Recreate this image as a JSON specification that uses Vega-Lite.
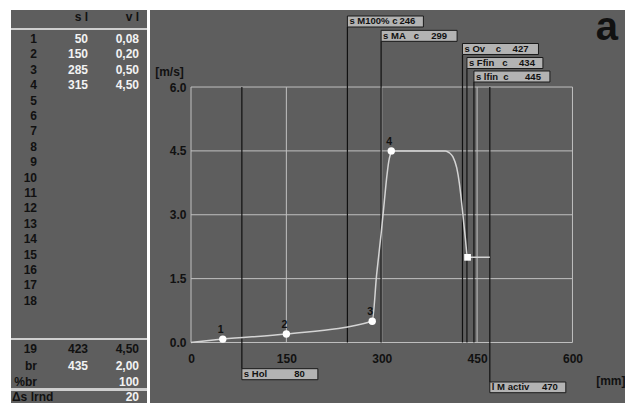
{
  "$schema": "https://vega.github.io/schema/vega-lite/v6.json",
  "background": "white",
  "padding": {"left": 10, "top": 8, "right": 0, "bottom": 0},
  "spacing": 3,
  "bounds": "flush",
  "config": {"view": {"stroke": null}, "font": "Liberation Sans"},
  "datasets": {
    "table": [
      {"label": "1", "line": 1, "s": "50", "v": "0,08"},
      {"label": "2", "line": 2, "s": "150", "v": "0,20"},
      {"label": "3", "line": 3, "s": "285", "v": "0,50"},
      {"label": "4", "line": 4, "s": "315", "v": "4,50"},
      {"label": "5", "line": 5, "s": "", "v": ""},
      {"label": "6", "line": 6, "s": "", "v": ""},
      {"label": "7", "line": 7, "s": "", "v": ""},
      {"label": "8", "line": 8, "s": "", "v": ""},
      {"label": "9", "line": 9, "s": "", "v": ""},
      {"label": "10", "line": 10, "s": "", "v": ""},
      {"label": "11", "line": 11, "s": "", "v": ""},
      {"label": "12", "line": 12, "s": "", "v": ""},
      {"label": "13", "line": 13, "s": "", "v": ""},
      {"label": "14", "line": 14, "s": "", "v": ""},
      {"label": "15", "line": 15, "s": "", "v": ""},
      {"label": "16", "line": 16, "s": "", "v": ""},
      {"label": "17", "line": 17, "s": "", "v": ""},
      {"label": "18", "line": 18, "s": "", "v": ""},
      {"label": "19", "line": 21.11, "s": "423", "v": "4,50"},
      {"label": "br", "line": 22.25, "s": "435", "v": "2,00"},
      {"label": "%br", "line": 23.27, "s": "", "v": "100"},
      {"label": "Δs lrnd", "line": 24.25, "s": "", "v": "20"}
    ],
    "header": [{"s": "s l", "v": "v l"}],
    "markers": [
      {"name": "s M100%\u00a0c", "value": 246},
      {"name": "s MA\u00a0\u00a0\u00a0c", "value": 299},
      {"name": "s Ov\u00a0\u00a0\u00a0\u00a0c", "value": 427},
      {"name": "s Ffin\u00a0\u00a0\u00a0c", "value": 434},
      {"name": "s lfin\u00a0\u00a0c", "value": 445},
      {"name": "s Hol", "value": 80},
      {"name": "l M activ", "value": 470}
    ],
    "profile": [
      {"s": 0, "v": 0},
      {"s": 50, "v": 0.08},
      {"s": 150, "v": 0.2},
      {"s": 285, "v": 0.5},
      {"s": 292, "v": 1.6},
      {"s": 299, "v": 2.55},
      {"s": 304, "v": 3.3},
      {"s": 308, "v": 3.9},
      {"s": 311, "v": 4.25},
      {"s": 315, "v": 4.45},
      {"s": 320, "v": 4.5},
      {"s": 400, "v": 4.5},
      {"s": 406, "v": 4.46},
      {"s": 412, "v": 4.36},
      {"s": 418, "v": 4.1},
      {"s": 422, "v": 3.75},
      {"s": 425, "v": 3.38},
      {"s": 428, "v": 2.95},
      {"s": 431.5, "v": 2.45},
      {"s": 435, "v": 2.0},
      {"s": 470, "v": 2.0}
    ],
    "points": [
      {"n": "1", "s": 50, "v": 0.08},
      {"n": "2", "s": 150, "v": 0.2},
      {"n": "3", "s": 285, "v": 0.5},
      {"n": "4", "s": 315, "v": 4.5}
    ],
    "brake": [{"s": 435, "v": 2.0}]
  },
  "hconcat": [
    {
      "width": 136,
      "height": 395,
      "view": {"fill": "#5e5e5e", "stroke": null},
      "data": {"name": "table"},
      "layer": [
        {"mark": {"type": "rule", "color": "#cfcfcf", "strokeWidth": 2},
         "encoding": {"y": {"datum": 0.35, "type": "quantitative", "scale": {"domain": [-0.8831, 24.7662], "reverse": true, "nice": false, "zero": false}, "axis": null}}},
        {"mark": {"type": "rule", "color": "#cfcfcf", "strokeWidth": 2},
         "encoding": {"y": {"datum": 20.48, "type": "quantitative", "axis": null}}},
        {"mark": {"type": "rule", "color": "#cfcfcf", "strokeWidth": 2},
         "encoding": {"y": {"datum": 23.77, "type": "quantitative", "axis": null}}},
        {"data": {"name": "header"},
         "mark": {"type": "text", "align": "right", "baseline": "middle", "fontSize": 12, "fontWeight": "bold", "color": "#111"},
         "encoding": {
           "x": {"datum": 1, "type": "quantitative", "scale": {"domain": [-0.5098, 2.1569], "nice": false, "zero": false}, "axis": null},
           "y": {"datum": -0.43, "type": "quantitative", "axis": null},
           "text": {"field": "s"}}},
        {"data": {"name": "header"},
         "mark": {"type": "text", "align": "right", "baseline": "middle", "fontSize": 12, "fontWeight": "bold", "color": "#111"},
         "encoding": {
           "x": {"datum": 2, "type": "quantitative", "axis": null},
           "y": {"datum": -0.43, "type": "quantitative", "axis": null},
           "text": {"field": "v"}}},
        {"transform": [{"filter": "datum.label != 'Δs lrnd'"}],
         "mark": {"type": "text", "align": "right", "baseline": "middle", "fontSize": 12, "fontWeight": "bold", "color": "#111", "clip": true},
         "encoding": {
           "x": {"datum": 0, "type": "quantitative", "axis": null},
           "y": {"field": "line", "type": "quantitative", "axis": null},
           "text": {"field": "label"}}},
        {"transform": [{"filter": "datum.label == 'Δs lrnd'"}],
         "mark": {"type": "text", "align": "left", "dx": -25, "baseline": "middle", "fontSize": 12, "fontWeight": "bold", "color": "#111", "clip": true},
         "encoding": {
           "x": {"datum": 0, "type": "quantitative", "axis": null},
           "y": {"field": "line", "type": "quantitative", "axis": null},
           "text": {"field": "label"}}},
        {"transform": [{"filter": "datum.line != 21.11"}],
         "mark": {"type": "text", "align": "right", "baseline": "middle", "fontSize": 12, "fontWeight": "bold", "color": "#f2f2f2", "clip": true},
         "encoding": {
           "x": {"datum": 1, "type": "quantitative", "axis": null},
           "y": {"field": "line", "type": "quantitative", "axis": null},
           "text": {"field": "s"}}},
        {"transform": [{"filter": "datum.line != 21.11"}],
         "mark": {"type": "text", "align": "right", "baseline": "middle", "fontSize": 12, "fontWeight": "bold", "color": "#f2f2f2", "clip": true},
         "encoding": {
           "x": {"datum": 2, "type": "quantitative", "axis": null},
           "y": {"field": "line", "type": "quantitative", "axis": null},
           "text": {"field": "v"}}},
        {"transform": [{"filter": "datum.line == 21.11"}],
         "mark": {"type": "text", "align": "right", "baseline": "middle", "fontSize": 12, "fontWeight": "bold", "color": "#111", "clip": true},
         "encoding": {
           "x": {"datum": 1, "type": "quantitative", "axis": null},
           "y": {"field": "line", "type": "quantitative", "axis": null},
           "text": {"field": "s"}}},
        {"transform": [{"filter": "datum.line == 21.11"}],
         "mark": {"type": "text", "align": "right", "baseline": "middle", "fontSize": 12, "fontWeight": "bold", "color": "#111", "clip": true},
         "encoding": {
           "x": {"datum": 2, "type": "quantitative", "axis": null},
           "y": {"field": "line", "type": "quantitative", "axis": null},
           "text": {"field": "v"}}}
      ]
    },
    {
      "width": 476,
      "height": 395,
      "view": {"fill": "#5e5e5e", "stroke": null},
      "resolve": {"axis": {"x": "independent", "y": "independent"}},
      "layer": [
        {"data": {"values": [{"g": 0}, {"g": 150}, {"g": 300}, {"g": 450}, {"g": 600}]},
         "mark": {"type": "rule", "color": "#c0c0c0", "strokeWidth": 1},
         "encoding": {
           "x": {"field": "g", "type": "quantitative",
                 "scale": {"domain": [-64.49, 684.19], "nice": false, "zero": false},
                 "axis": {"values": [0, 150, 300, 450, 600], "format": "d", "orient": "bottom", "offset": -62.5,
                          "domain": false, "ticks": false, "tickSize": 0, "grid": false,
                          "labelPadding": 16, "labelBaseline": "middle", "labelFontSize": 12, "labelFontWeight": "bold",
                          "labelColor": "#111", "labelFlush": false, "labelOverlap": false,
                          "title": "[mm]", "titleX": 475, "titleY": 37.5, "titleAlign": "right", "titleBaseline": "middle",
                          "titleFontSize": 12, "titleFontWeight": "bold", "titleColor": "#111"}},
           "y": {"datum": 0, "type": "quantitative", "scale": {"domain": [-1.468, 7.809], "nice": false, "zero": false}, "axis": null},
           "y2": {"datum": 6}}},
        {"data": {"values": [{"g": 0}, {"g": 1.5}, {"g": 3}, {"g": 4.5}, {"g": 6}]},
         "mark": {"type": "rule", "color": "#c0c0c0", "strokeWidth": 1},
         "encoding": {
           "y": {"field": "g", "type": "quantitative",
                 "scale": {"domain": [-1.468, 7.809], "nice": false, "zero": false},
                 "axis": {"values": [0, 1.5, 3, 4.5, 6], "format": ".1f", "orient": "left", "offset": -41,
                          "domain": false, "ticks": false, "tickSize": 0, "grid": false,
                          "labelPadding": 5, "labelFontSize": 12, "labelFontWeight": "bold",
                          "labelColor": "#111", "labelFlush": false, "labelOverlap": false,
                          "title": "[m/s]", "titleAngle": 0, "titleX": -22, "titleY": 61, "titleAlign": "center", "titleBaseline": "middle",
                          "titleFontSize": 12, "titleFontWeight": "bold", "titleColor": "#111"}},
           "x": {"datum": 0, "type": "quantitative", "axis": null},
           "x2": {"datum": 600}}},
        {"data": {"name": "markers"}, "transform": [{"filter": "datum.value == 246"}],
         "encoding": {"x": {"field": "value", "type": "quantitative", "axis": null}},
         "layer": [
           {"mark": {"type": "rule", "color": "#111", "strokeWidth": 1.2}, "encoding": {"y": {"datum": 0, "axis": null}, "y2": {"datum": 7.41}}},
           {"mark": {"type": "rect", "fill": "#b3b3b3", "stroke": "#1a1a1a", "strokeWidth": 1, "x2Offset": 76}, "encoding": {"x2": {"field": "value"}, "y": {"datum": 7.668, "axis": null}, "y2": {"datum": 7.41}}},
           {"mark": {"type": "text", "align": "left", "dx": 2, "baseline": "middle", "fontSize": 9.5, "fontWeight": "bold", "color": "#111"}, "encoding": {"y": {"datum": 7.539, "axis": null}, "text": {"field": "name"}}},
           {"mark": {"type": "text", "align": "right", "dx": 68, "baseline": "middle", "fontSize": 9.5, "fontWeight": "bold", "color": "#111"}, "encoding": {"y": {"datum": 7.539, "axis": null}, "text": {"field": "value"}}}
         ]},
        {"data": {"name": "markers"}, "transform": [{"filter": "datum.value == 299"}],
         "encoding": {"x": {"field": "value", "type": "quantitative", "axis": null}},
         "layer": [
           {"mark": {"type": "rule", "color": "#111", "strokeWidth": 1.2}, "encoding": {"y": {"datum": 0, "axis": null}, "y2": {"datum": 7.073}}},
           {"mark": {"type": "rect", "fill": "#b3b3b3", "stroke": "#1a1a1a", "strokeWidth": 1, "x2Offset": 76}, "encoding": {"x2": {"field": "value"}, "y": {"datum": 7.331, "axis": null}, "y2": {"datum": 7.073}}},
           {"mark": {"type": "text", "align": "left", "dx": 2, "baseline": "middle", "fontSize": 9.5, "fontWeight": "bold", "color": "#111"}, "encoding": {"y": {"datum": 7.202, "axis": null}, "text": {"field": "name"}}},
           {"mark": {"type": "text", "align": "right", "dx": 66, "baseline": "middle", "fontSize": 9.5, "fontWeight": "bold", "color": "#111"}, "encoding": {"y": {"datum": 7.202, "axis": null}, "text": {"field": "value"}}}
         ]},
        {"data": {"name": "markers"}, "transform": [{"filter": "datum.value == 427"}],
         "encoding": {"x": {"field": "value", "type": "quantitative", "axis": null}},
         "layer": [
           {"mark": {"type": "rule", "color": "#111", "strokeWidth": 1.2}, "encoding": {"y": {"datum": 0, "axis": null}, "y2": {"datum": 6.764}}},
           {"mark": {"type": "rect", "fill": "#b3b3b3", "stroke": "#1a1a1a", "strokeWidth": 1, "x2Offset": 76}, "encoding": {"x2": {"field": "value"}, "y": {"datum": 7.022, "axis": null}, "y2": {"datum": 6.764}}},
           {"mark": {"type": "text", "align": "left", "dx": 2, "baseline": "middle", "fontSize": 9.5, "fontWeight": "bold", "color": "#111"}, "encoding": {"y": {"datum": 6.893, "axis": null}, "text": {"field": "name"}}},
           {"mark": {"type": "text", "align": "right", "dx": 66, "baseline": "middle", "fontSize": 9.5, "fontWeight": "bold", "color": "#111"}, "encoding": {"y": {"datum": 6.893, "axis": null}, "text": {"field": "value"}}}
         ]},
        {"data": {"name": "markers"}, "transform": [{"filter": "datum.value == 434"}],
         "encoding": {"x": {"field": "value", "type": "quantitative", "axis": null}},
         "layer": [
           {"mark": {"type": "rule", "color": "#111", "strokeWidth": 1.2}, "encoding": {"y": {"datum": 0, "axis": null}, "y2": {"datum": 6.435}}},
           {"mark": {"type": "rect", "fill": "#b3b3b3", "stroke": "#1a1a1a", "strokeWidth": 1, "x2Offset": 76}, "encoding": {"x2": {"field": "value"}, "y": {"datum": 6.693, "axis": null}, "y2": {"datum": 6.435}}},
           {"mark": {"type": "text", "align": "left", "dx": 2, "baseline": "middle", "fontSize": 9.5, "fontWeight": "bold", "color": "#111"}, "encoding": {"y": {"datum": 6.564, "axis": null}, "text": {"field": "name"}}},
           {"mark": {"type": "text", "align": "right", "dx": 68, "baseline": "middle", "fontSize": 9.5, "fontWeight": "bold", "color": "#111"}, "encoding": {"y": {"datum": 6.564, "axis": null}, "text": {"field": "value"}}}
         ]},
        {"data": {"name": "markers"}, "transform": [{"filter": "datum.value == 445"}],
         "encoding": {"x": {"field": "value", "type": "quantitative", "axis": null}},
         "layer": [
           {"mark": {"type": "rule", "color": "#111", "strokeWidth": 1.2}, "encoding": {"y": {"datum": 0, "axis": null}, "y2": {"datum": 6.118}}},
           {"mark": {"type": "rect", "fill": "#b3b3b3", "stroke": "#1a1a1a", "strokeWidth": 1, "x2Offset": 76}, "encoding": {"x2": {"field": "value"}, "y": {"datum": 6.376, "axis": null}, "y2": {"datum": 6.118}}},
           {"mark": {"type": "text", "align": "left", "dx": 2, "baseline": "middle", "fontSize": 9.5, "fontWeight": "bold", "color": "#111"}, "encoding": {"y": {"datum": 6.247, "axis": null}, "text": {"field": "name"}}},
           {"mark": {"type": "text", "align": "right", "dx": 67, "baseline": "middle", "fontSize": 9.5, "fontWeight": "bold", "color": "#111"}, "encoding": {"y": {"datum": 6.247, "axis": null}, "text": {"field": "value"}}}
         ]},
        {"data": {"name": "markers"}, "transform": [{"filter": "datum.value == 80"}],
         "encoding": {"x": {"field": "value", "type": "quantitative", "axis": null}},
         "layer": [
           {"mark": {"type": "rule", "color": "#111", "strokeWidth": 1.2}, "encoding": {"y": {"datum": 6, "axis": null}, "y2": {"datum": -0.615}}},
           {"mark": {"type": "rect", "fill": "#b3b3b3", "stroke": "#1a1a1a", "strokeWidth": 1, "x2Offset": 76}, "encoding": {"x2": {"field": "value"}, "y": {"datum": -0.615, "axis": null}, "y2": {"datum": -0.874}}},
           {"mark": {"type": "text", "align": "left", "dx": 2, "baseline": "middle", "fontSize": 9.5, "fontWeight": "bold", "color": "#111"}, "encoding": {"y": {"datum": -0.744, "axis": null}, "text": {"field": "name"}}},
           {"mark": {"type": "text", "align": "right", "dx": 63, "baseline": "middle", "fontSize": 9.5, "fontWeight": "bold", "color": "#111"}, "encoding": {"y": {"datum": -0.744, "axis": null}, "text": {"field": "value"}}}
         ]},
        {"data": {"name": "markers"}, "transform": [{"filter": "datum.value == 470"}],
         "encoding": {"x": {"field": "value", "type": "quantitative", "axis": null}},
         "layer": [
           {"mark": {"type": "rule", "color": "#111", "strokeWidth": 1.2}, "encoding": {"y": {"datum": 6, "axis": null}, "y2": {"datum": -0.928}}},
           {"mark": {"type": "rect", "fill": "#b3b3b3", "stroke": "#1a1a1a", "strokeWidth": 1, "x2Offset": 76}, "encoding": {"x2": {"field": "value"}, "y": {"datum": -0.928, "axis": null}, "y2": {"datum": -1.179}}},
           {"mark": {"type": "text", "align": "left", "dx": 2, "baseline": "middle", "fontSize": 9.5, "fontWeight": "bold", "color": "#111"}, "encoding": {"y": {"datum": -1.053, "axis": null}, "text": {"field": "name"}}},
           {"mark": {"type": "text", "align": "right", "dx": 68, "baseline": "middle", "fontSize": 9.5, "fontWeight": "bold", "color": "#111"}, "encoding": {"y": {"datum": -1.053, "axis": null}, "text": {"field": "value"}}}
         ]},
        {"data": {"name": "profile"},
         "mark": {"type": "line", "color": "#d4d4d4", "strokeWidth": 1.5, "interpolate": "monotone"},
         "encoding": {
           "x": {"field": "s", "type": "quantitative", "axis": null},
           "y": {"field": "v", "type": "quantitative", "axis": null}}},
        {"data": {"name": "points"},
         "mark": {"type": "point", "shape": "circle", "filled": true, "color": "#ffffff", "size": 55, "opacity": 1},
         "encoding": {
           "x": {"field": "s", "type": "quantitative", "axis": null},
           "y": {"field": "v", "type": "quantitative", "axis": null}}},
        {"data": {"name": "points"},
         "mark": {"type": "text", "dx": -2, "dy": -9, "baseline": "middle", "fontSize": 10.5, "fontWeight": "bold", "color": "#111"},
         "encoding": {
           "x": {"field": "s", "type": "quantitative", "axis": null},
           "y": {"field": "v", "type": "quantitative", "axis": null},
           "text": {"field": "n"}}},
        {"data": {"name": "brake"},
         "mark": {"type": "point", "shape": "square", "filled": true, "color": "#ffffff", "size": 45, "opacity": 1},
         "encoding": {
           "x": {"field": "s", "type": "quantitative", "axis": null},
           "y": {"field": "v", "type": "quantitative", "axis": null}}},
        {"data": {"values": [{"panel": "a"}]},
         "mark": {"type": "text", "align": "center", "baseline": "alphabetic", "fontSize": 40, "fontWeight": "bold", "color": "#111"},
         "encoding": {
           "x": {"datum": 654, "type": "quantitative", "axis": null},
           "y": {"datum": 7.1, "type": "quantitative", "axis": null},
           "text": {"field": "panel"}}}
      ]
    }
  ]
}
